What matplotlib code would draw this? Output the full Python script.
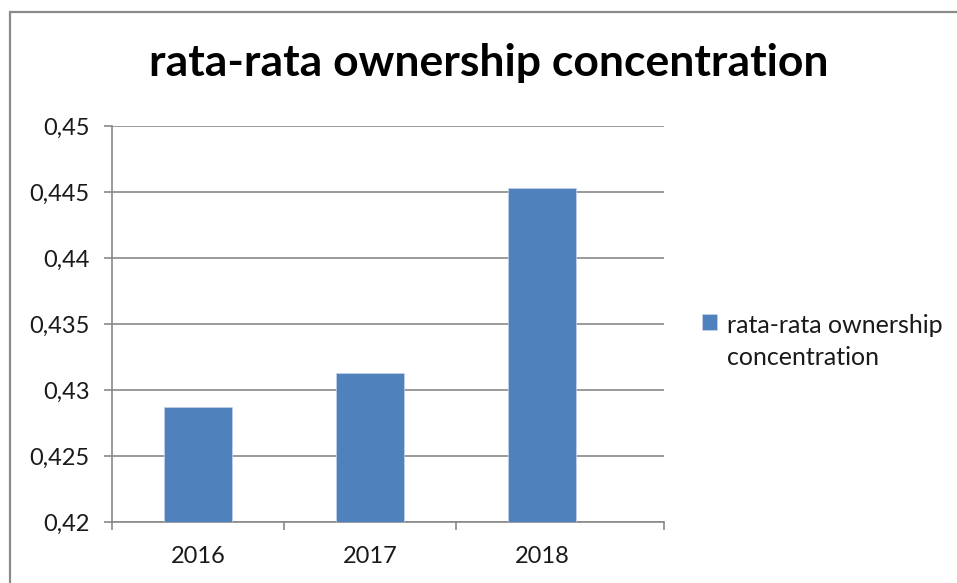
import matplotlib
matplotlib.use("Agg")
import matplotlib.pyplot as plt
from matplotlib.patches import Rectangle
from matplotlib.ticker import FuncFormatter

# Data
years = ["2016", "2017", "2018"]
values = [0.4287, 0.4313, 0.4453]
series_name = "rata-rata ownership concentration"
y_ticks = [0.42, 0.425, 0.43, 0.435, 0.44, 0.445, 0.45]

bar_color = "#4F81BD"
grid_color = "#898989"
text_color = "#1a1a1a"

plt.rcParams["font.family"] = ["Lato", "DejaVu Sans"]


def comma_fmt(v, pos):
    # Excel with comma decimal separator, trailing zeros stripped
    s = ("%.3f" % v).rstrip("0").rstrip(".")
    return s.replace(".", ",")


def main():
    fig = plt.figure(figsize=(9.57, 5.83), dpi=100)
    W, H = 957, 583

    # Outer chart frame (cropped on the right and bottom)
    fig.patches.append(Rectangle((10 / W, -0.05), 1.1, 1 - 12 / H + 0.05,
                                 transform=fig.transFigure, fill=False,
                                 edgecolor="#8a8a8a", linewidth=1.6))

    ax = fig.add_axes([112 / W, 1 - 522 / H, (664 - 112) / W, (522 - 126) / H])

    x = list(range(len(years)))
    ax.bar(x, values, width=0.40, color=bar_color, label=series_name,
           zorder=3, edgecolor="#c5d4ea", linewidth=0.5)

    ax.set_ylim(0.42, 0.45)
    ax.set_xlim(-0.5, 2.71)
    ax.set_yticks(y_ticks)
    ax.yaxis.set_major_formatter(FuncFormatter(comma_fmt))
    ax.grid(axis="y", color=grid_color, linewidth=1.2, zorder=0)

    # category boundary ticks, labels centred under the bars
    ax.set_xticks([-0.5, 0.5, 1.5, 2.71])
    ax.set_xticklabels([])
    ax.set_xticks(x, minor=True)
    ax.set_xticklabels(years, minor=True)
    ax.tick_params(axis="x", which="major", length=6, width=1.2, color=grid_color)
    ax.tick_params(axis="x", which="minor", length=0, pad=17,
                   labelsize=17, labelcolor=text_color)
    ax.tick_params(axis="y", length=6, width=1.2, color=grid_color, pad=10,
                   labelsize=17, labelcolor=text_color)

    for side in ["top", "right"]:
        ax.spines[side].set_visible(False)
    for side in ["left", "bottom"]:
        ax.spines[side].set_color(grid_color)
        ax.spines[side].set_linewidth(1.2)

    fig.text(489 / W, 1 - 63 / H, series_name, ha="center", va="center",
             fontsize=32, fontweight="bold", color="#000000")

    handles, labels = ax.get_legend_handles_labels()
    leg = ax.legend(handles, ["rata-rata ownership\nconcentration"],
                    loc="upper left", bbox_to_anchor=(702 / W, 1 - 314 / H),
                    bbox_transform=fig.transFigure, frameon=False, fontsize=18,
                    handlelength=0.6, handleheight=0.6, handletextpad=0.4,
                    labelcolor=text_color, borderpad=0, borderaxespad=0)
    for t in leg.get_texts():
        t.set_linespacing(1.45)
    # square sits next to the first line, like Excel does
    for col in leg._legend_handle_box.get_children():
        for item in col.get_children():
            item.align = "top"

    fig.savefig("out.png", dpi=100, facecolor="white")


if __name__ == "__main__":
    main()
